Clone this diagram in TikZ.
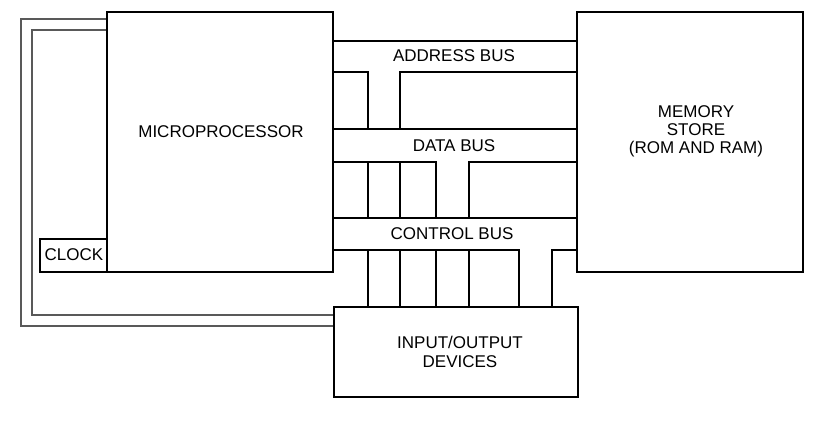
\documentclass[tikz,border=0pt]{standalone}
\usepackage{fontspec}
\setmainfont{Liberation Sans}
\begin{document}
\begin{tikzpicture}[x=1pt,y=-1pt,
  box/.style={draw=black,line width=1.2pt,rectangle,inner sep=0pt,align=center},
  txt/.style={font=\fontsize{17}{18.5}\selectfont,inner sep=0pt,align=center},
  bus/.style={draw=black,line width=1.1pt},
  wire/.style={draw=black!65,line width=1.3pt}]
\useasboundingbox (0,0) rectangle (819,437);
\fill[white] (0,0) rectangle (819,437);
% boxes
\node[box,minimum width=226pt,minimum height=260pt] (mp) at (220,142) {};
\node[box,minimum width=226pt,minimum height=260pt] (mem) at (690,142) {};
\node[box,minimum width=244pt,minimum height=90pt] (io) at (456,352) {};
\node[box,minimum width=67pt,minimum height=33pt] (clk) at (73.5,255.5) {};
% texts
\node[txt] (tmp) at (221,132) {MICROPROCESSOR};
\node[txt] (tmem) at (696,131) {MEMORY\\[-0.5pt]STORE\\[-0.5pt](ROM AND RAM)};
\node[txt] (tio) at (460,352) {INPUT/OUTPUT\\[0pt]DEVICES};
\node[txt] (tclk) at (74,255) {CLOCK};
\node[txt] (tab) at (454,56) {ADDRESS BUS};
\node[txt] (tdb) at (454,146) {DATA BUS};
\node[txt] (tcb) at (452,234) {CONTROL BUS};
% reference levels
\coordinate (y41) at (0,41);
\coordinate (y72) at (0,72);
\coordinate (y129) at (0,129);
\coordinate (y162) at (0,162);
\coordinate (y218) at (0,218);
\coordinate (y250) at (0,250);
\coordinate (x368) at (368,0);
\coordinate (x400) at (400,0);
\coordinate (x436) at (436,0);
\coordinate (x469) at (469,0);
\coordinate (x519) at (519,0);
\coordinate (x552) at (552,0);
% address bus
\draw[bus] (mp.east |- y41) -- (mem.west |- y41);
\draw[bus] (mp.east |- y72) -- (x368 |- y72) -- (x368 |- y129);
\draw[bus] (mem.west |- y72) -- (x400 |- y72) -- (x400 |- y129);
% data bus
\draw[bus] (mp.east |- y129) -- (mem.west |- y129);
\draw[bus] (mp.east |- y162) -- (x436 |- y162) -- (x436 |- y218);
\draw[bus] (mem.west |- y162) -- (x469 |- y162) -- (x469 |- y218);
\draw[bus] (x368 |- y162) -- (x368 |- y218);
\draw[bus] (x400 |- y162) -- (x400 |- y218);
% control bus
\draw[bus] (mp.east |- y218) -- (mem.west |- y218);
\draw[bus] (mp.east |- y250) -- (x519 |- y250) -- (x519 |- io.north);
\draw[bus] (mem.west |- y250) -- (x552 |- y250) -- (x552 |- io.north);
\draw[bus] (x368 |- y250) -- (x368 |- io.north);
\draw[bus] (x400 |- y250) -- (x400 |- io.north);
\draw[bus] (x436 |- y250) -- (x436 |- io.north);
\draw[bus] (x469 |- y250) -- (x469 |- io.north);
% clock wires
\coordinate (w1) at (21,19);
\coordinate (w2) at (21,326);
\coordinate (w3) at (32,30);
\coordinate (w4) at (32,315);
\draw[wire] (mp.west |- w1) -- (w1) -- (w2) -- (io.west |- w2);
\draw[wire] (mp.west |- w3) -- (w3) -- (w4) -- (io.west |- w4);
\end{tikzpicture}
\end{document}
